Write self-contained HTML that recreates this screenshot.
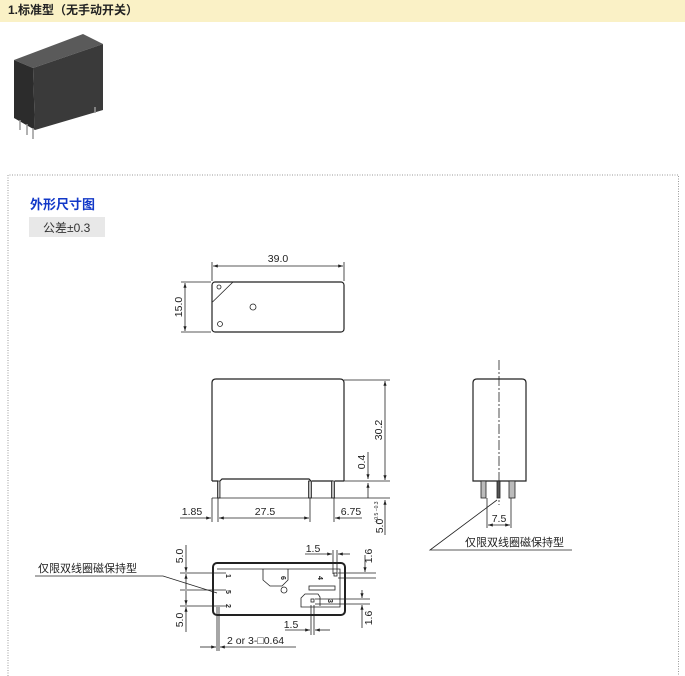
<!DOCTYPE html>
<html><head><meta charset="utf-8"><style>
html,body{margin:0;padding:0;background:#fff;width:685px;height:676px;overflow:hidden}
svg text{font-family:"Liberation Sans","Noto Sans CJK SC",sans-serif}
</style></head><body>
<svg width="685" height="676" viewBox="0 0 685 676" xmlns="http://www.w3.org/2000/svg">
<defs>
<marker id="a" viewBox="0 0 6 4" refX="6" refY="2" markerWidth="6" markerHeight="4" orient="auto-start-reverse"><path d="M0,0L6,2L0,4z" fill="#222"/></marker>
</defs>
<rect x="0" y="0" width="685" height="22" fill="#faf1c6"/>
<text x="8" y="14" font-size="12" font-weight="bold" fill="#222">1.标准型（无手动开关）</text>
<!-- relay photo -->
<polygon points="14,60 83,34 103,44 33,68" fill="#5a5a5a"/>
<polygon points="14,60 33,68 35,130 14,118" fill="#2c2c2c"/>
<polygon points="33,68 103,44 103,110 35,130" fill="#3a3a3a"/>
<g stroke="#999" stroke-width="1.5"><line x1="20" y1="120" x2="20" y2="130"/><line x1="27" y1="124" x2="27" y2="135"/><line x1="33" y1="128" x2="33" y2="139"/><line x1="95" y1="107" x2="95" y2="113"/></g>
<!-- dotted box -->
<path d="M8,676 V175 H678.5 V676" fill="none" stroke="#999" stroke-dasharray="1,1.5"/>
<text x="30" y="209" font-size="13" font-weight="bold" fill="#1238c8">外形尺寸图</text>
<rect x="29" y="217" width="76" height="20" fill="#e8e8e8"/>
<text x="43" y="232" font-size="12" fill="#333">公差±0.3</text>
<g stroke="#222" stroke-width="0.8" fill="none">
<!-- top view -->
<rect x="212" y="282" width="132" height="50" rx="3" stroke-width="1.2"/>
<line x1="212.5" y1="302" x2="233" y2="282"/>
<circle cx="219" cy="287" r="2"/><circle cx="253" cy="307" r="3"/><circle cx="220" cy="324" r="2.5"/>
<line x1="212" y1="262" x2="212" y2="281"/><line x1="344" y1="262" x2="344" y2="281"/>
<line x1="213" y1="266" x2="343" y2="266" marker-start="url(#a)" marker-end="url(#a)"/>
<line x1="181" y1="282" x2="211" y2="282"/><line x1="181" y1="332" x2="211" y2="332"/>
<line x1="185" y1="283" x2="185" y2="331" marker-start="url(#a)" marker-end="url(#a)"/>
<!-- front view -->
<path d="M212,481 V383 Q212,379 216,379 H340 Q344,379 344,383 V481" stroke-width="1.2"/>
<path d="M212,481 H218 M220,481 L222,479 H309 L311,481 M312,481 H333 M335,481 H344" stroke-width="1.2"/>
<rect x="217.5" y="481" width="2.5" height="17" fill="#bbb"/>
<rect x="308.5" y="481" width="3" height="17" fill="#bbb"/>
<rect x="331.5" y="481" width="3" height="17" fill="#bbb"/>
<line x1="344" y1="380" x2="390" y2="380"/><line x1="344" y1="481" x2="390" y2="481"/><line x1="212" y1="498" x2="390" y2="498"/>
<line x1="385" y1="381" x2="385" y2="480" marker-start="url(#a)" marker-end="url(#a)"/>
<line x1="368" y1="452" x2="368" y2="479" marker-end="url(#a)"/>
<line x1="368" y1="483" x2="368" y2="498" marker-start="url(#a)"/>
<line x1="385" y1="500" x2="385" y2="535" marker-start="url(#a)"/>
<line x1="212" y1="498" x2="212" y2="522"/><line x1="218" y1="498" x2="218" y2="522"/>
<line x1="310" y1="498" x2="310" y2="522"/><line x1="334" y1="498" x2="334" y2="522"/>
<line x1="180" y1="518" x2="211" y2="518" marker-end="url(#a)"/>
<line x1="219" y1="518" x2="309" y2="518" marker-start="url(#a)" marker-end="url(#a)"/>
<line x1="335" y1="518" x2="362" y2="518" marker-start="url(#a)"/>
<!-- side view -->
<path d="M473,481 V383 Q473,379 477,379 H522 Q526,379 526,383 V481 Z" stroke-width="1.2"/>
<line x1="499" y1="360" x2="499" y2="505" stroke-dasharray="10,2,2,2"/>
<rect x="481" y="481" width="5" height="17" fill="#bbb"/>
<rect x="497" y="481" width="3" height="17" fill="#555"/>
<rect x="509" y="481" width="6" height="17" fill="#bbb"/>
<line x1="487" y1="498" x2="487" y2="528"/><line x1="511" y1="498" x2="511" y2="528"/>
<line x1="488" y1="525" x2="510" y2="525" marker-start="url(#a)" marker-end="url(#a)"/>
<path d="M572,550 H430 L497,500"/>
<!-- bottom view -->
<rect x="213" y="563" width="132" height="52" rx="4" stroke-width="2"/>
<path d="M217,569 H340 V607 H301 V598 L305,594 H318 L320,597 V606"/>
<path d="M263,569 V580 L270,586 H282 L288,580 V569"/>
<rect x="309" y="586" width="26" height="4"/>
<rect x="334" y="573" width="3" height="3"/><rect x="311" y="599" width="3" height="3"/>
<circle cx="284" cy="590" r="3"/>
<line x1="180" y1="573" x2="226" y2="573"/><line x1="180" y1="590" x2="226" y2="590"/><line x1="180" y1="606" x2="226" y2="606"/>
<line x1="186" y1="545" x2="186" y2="572" marker-end="url(#a)"/>
<line x1="186" y1="574" x2="186" y2="589" marker-start="url(#a)"/>
<line x1="186" y1="591" x2="186" y2="605" marker-end="url(#a)"/>
<line x1="186" y1="607" x2="186" y2="632" marker-start="url(#a)"/>
<line x1="333" y1="550" x2="333" y2="574"/><line x1="337" y1="550" x2="337" y2="574"/>
<line x1="305" y1="554" x2="332" y2="554" marker-end="url(#a)"/>
<line x1="338" y1="554" x2="350" y2="554" marker-start="url(#a)"/>
<line x1="338" y1="573" x2="376" y2="573"/><line x1="338" y1="578" x2="376" y2="578"/>
<line x1="365" y1="555" x2="365" y2="572" marker-end="url(#a)"/>
<line x1="315" y1="599" x2="370" y2="599"/><line x1="315" y1="604" x2="370" y2="604"/>
<line x1="362" y1="590" x2="362" y2="598" marker-end="url(#a)"/>
<line x1="362" y1="605" x2="362" y2="628" marker-start="url(#a)"/>
<line x1="311" y1="605" x2="311" y2="635"/><line x1="314" y1="605" x2="314" y2="635"/>
<line x1="285" y1="630" x2="310" y2="630" marker-end="url(#a)"/>
<line x1="315" y1="630" x2="330" y2="630" marker-start="url(#a)"/>
<line x1="217" y1="607" x2="217" y2="651"/><line x1="219" y1="607" x2="219" y2="651"/>
<line x1="200" y1="647" x2="216" y2="647" marker-end="url(#a)"/>
<line x1="220" y1="647" x2="296" y2="647" marker-start="url(#a)"/>
<path d="M35,576 H163 L217,593"/>
</g>
<g fill="#222" font-size="10.5">
<text x="278" y="262" text-anchor="middle">39.0</text>
<text transform="translate(182,307) rotate(-90)" text-anchor="middle">15.0</text>
<text transform="translate(382,430) rotate(-90)" text-anchor="middle">30.2</text>
<text transform="translate(365,462) rotate(-90)" text-anchor="middle">0.4</text>
<text transform="translate(383,526) rotate(-90)" text-anchor="middle">5.0</text>
<text transform="translate(378,512) rotate(-90)" font-size="5" text-anchor="middle">+0.5 −0.3</text>
<text x="192" y="515" text-anchor="middle">1.85</text>
<text x="265" y="515" text-anchor="middle">27.5</text>
<text x="351" y="515" text-anchor="middle">6.75</text>
<text x="499" y="522" text-anchor="middle">7.5</text>
<text x="465" y="546" font-size="11">仅限双线圈磁保持型</text>
<text x="38" y="572" font-size="11">仅限双线圈磁保持型</text>
<text transform="translate(183,556) rotate(-90)" text-anchor="middle">5.0</text>
<text transform="translate(183,620) rotate(-90)" text-anchor="middle">5.0</text>
<text x="313" y="552" text-anchor="middle">1.5</text>
<text x="291" y="628" text-anchor="middle">1.5</text>
<text transform="translate(372,556) rotate(-90)" text-anchor="middle">1.6</text>
<text transform="translate(372,618) rotate(-90)" text-anchor="middle">1.6</text>
<text x="227" y="644">2 or 3-□0.64</text>
<g font-size="7" font-weight="bold">
<text transform="translate(226,576) rotate(90)" text-anchor="middle">1</text>
<text transform="translate(226,592) rotate(90)" text-anchor="middle">5</text>
<text transform="translate(226,606) rotate(90)" text-anchor="middle">2</text>
<text transform="translate(281,578) rotate(90)" text-anchor="middle">6</text>
<text transform="translate(318,578) rotate(90)" text-anchor="middle">4</text>
<text transform="translate(328,601) rotate(90)" text-anchor="middle">3</text>
</g>
</g>
</svg>
</body></html>
